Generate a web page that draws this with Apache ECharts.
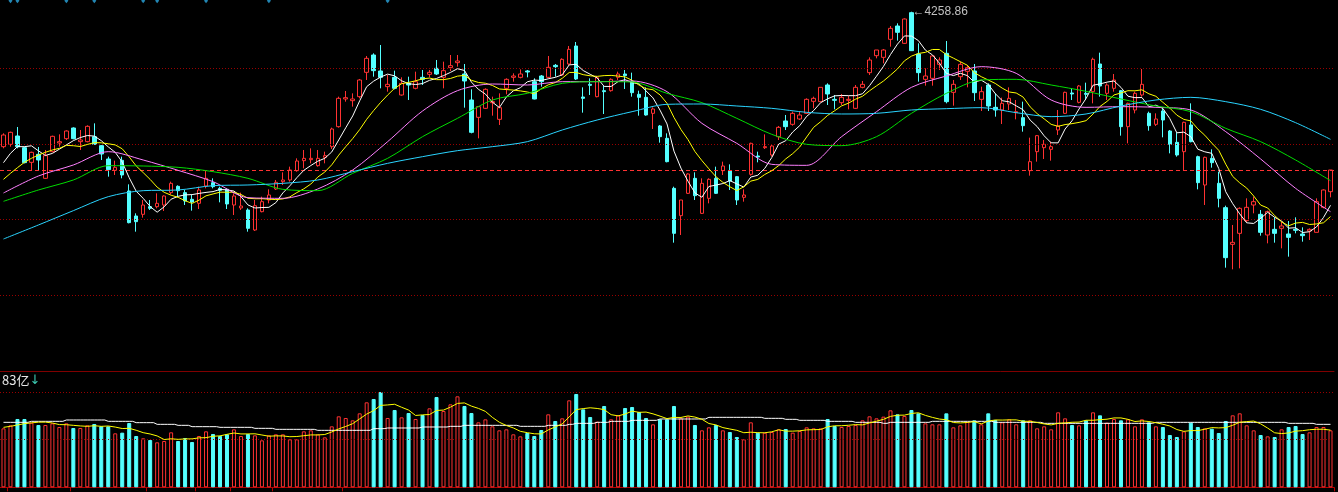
<!DOCTYPE html>
<html><head><meta charset="utf-8">
<script src="https://cdn.jsdelivr.net/npm/echarts@6/dist/echarts.min.js"></script>
<style>html,body{margin:0;padding:0;background:#000;overflow:hidden;} #c{width:1338px;height:492px;}</style>
</head><body><div id="c"></div>
<script>
const opens=[
3854,3861,3886,3851,3807,3831,3759,3839,3865,3878,
3910,3869,3869,3884,3857,3817,3783,3813,3721,3646,
3651,3674,3674,3679,3716,3735,3716,3696,3684,3736,
3746,3729,3726,3679,3670,3664,3604,3659,3694,3727,
3749,3754,3782,3812,3815,3797,3822,3854,3914,3997,
3992,4004,4077,4129,4081,4034,4062,4009,4044,4029,
4062,4071,4089,4062,4091,4106,4072,3994,3942,3969,
3986,3936,4029,4062,4062,4081,4049,4066,4062,4098,
4069,4102,4156,4003,4041,4004,4022,4022,4062,4072,
4049,4011,4002,3954,3916,3879,3729,3647,3714,3759,
3654,3699,3759,3782,3782,3764,3702,3771,3826,3851,
3829,3884,3931,3921,3937,3954,3990,3989,4039,3996,
3986,3993,3969,4032,4076,4127,4122,4176,4216,4164,
4256,4132,4056,4059,4101,4134,4017,4064,4080,4081,
3996,4039,3972,3964,3982,3956,3941,3782,3839,3851,
3846,3904,3954,4015,3987,4014,4019,4102,4014,4029,
4022,3914,3964,4009,3954,3921,3961,3901,3867,3839,
3919,3824,3739,3819,3744,3671,3561,3594,3632,3679,
3651,3589,3606,3609,3592,3606,3592,3601,3597,3672,
3719];
const closes=[
3889,3897,3854,3806,3837,3814,3827,3885,3869,3901,
3878,3874,3915,3861,3832,3785,3792,3769,3626,3629,
3679,3669,3684,3706,3744,3722,3691,3688,3724,3759,
3734,3723,3682,3706,3676,3609,3677,3689,3709,3747,
3754,3784,3811,3819,3819,3819,3827,3907,3999,4001,
3997,4054,4119,4082,4062,4041,4029,4044,4039,4049,
4056,4077,4072,4082,4097,4111,4051,3897,3974,4026,
3989,3971,4056,4066,4072,4078,3997,4049,4092,4094,
4116,4146,4057,3999,4038,4061,4019,4056,4072,4067,
4016,4002,3949,3967,3884,3809,3594,3694,3772,3707,
3744,3756,3714,3796,3751,3694,3709,3864,3823,3854,
3856,3912,3914,3954,3949,3996,3999,4032,4012,3993,
4002,3996,4032,4041,4114,4144,4144,4209,4197,4237,
4142,4076,4066,4126,4114,3989,4041,4101,4091,4016,
4019,3976,3964,3984,3999,3959,3917,3809,3887,3861,
3854,3916,4017,4012,4036,4011,4116,4036,4039,4054,
3914,3984,4014,4041,3917,3937,3934,3861,3829,3927,
3869,3746,3822,3806,3699,3521,3567,3669,3672,3689,
3597,3659,3594,3616,3582,3603,3587,3606,3689,3724,
3784];
const lows=[
3849,3854,3849,3804,3784,3784,3757,3837,3854,3874,
3876,3844,3867,3859,3814,3764,3769,3759,3624,3599,
3641,3664,3669,3661,3711,3704,3679,3662,3667,3729,
3729,3687,3667,3649,3664,3599,3601,3657,3684,3724,
3739,3749,3779,3789,3804,3794,3804,3847,3911,3989,
3974,3999,4054,4064,4029,4019,4026,4007,3994,4026,
4039,4062,4069,4029,4081,4094,3971,3894,3879,3967,
3947,3919,4011,4049,4059,4062,3996,4034,4059,4064,
4066,4099,4054,3956,4009,4002,3952,4019,4054,4027,
4004,3947,3947,3907,3866,3807,3566,3589,3712,3694,
3652,3684,3712,3769,3724,3679,3689,3767,3807,3847,
3824,3874,3904,3917,3934,3952,3969,3987,3979,3966,
3979,3966,3967,4029,4069,4119,4104,4154,4172,4162,
4141,4049,4037,4037,4084,3984,3977,4054,4032,3991,
3961,3961,3944,3922,3964,3936,3899,3767,3809,3817,
3812,3889,3952,3994,3984,3994,3984,4004,3994,4019,
3887,3864,3954,4004,3902,3916,3882,3834,3824,3784,
3867,3726,3679,3791,3672,3491,3486,3489,3627,3654,
3587,3564,3566,3549,3524,3594,3569,3574,3597,3669,
3702];
const highs=[
3894,3899,3913,3854,3839,3853,3844,3887,3891,3903,
3912,3904,3918,3924,3859,3824,3812,3824,3741,3654,
3694,3694,3714,3708,3749,3738,3724,3709,3734,3781,
3759,3734,3729,3714,3716,3669,3694,3704,3726,3754,
3777,3794,3819,3844,3849,3844,3839,3911,4004,4021,
4014,4057,4126,4134,4159,4069,4082,4062,4064,4079,
4084,4084,4114,4109,4129,4129,4102,4026,3976,4029,
4004,4014,4059,4074,4086,4084,4059,4069,4126,4102,
4119,4156,4168,4032,4059,4066,4036,4059,4079,4084,
4076,4022,4032,3972,3919,3894,3734,3694,3774,3777,
3759,3759,3794,3809,3801,3766,3726,3866,3839,3891,
3859,3916,3949,3959,3959,3999,4004,4032,4044,4009,
4012,4007,4039,4051,4122,4144,4147,4216,4224,4239,
4258.86,4164,4089,4129,4122,4171,4054,4109,4099,4102,
4034,4044,4014,4001,4032,3994,3989,3881,3889,3874,
3869,3964,4019,4029,4039,4046,4121,4136,4044,4072,
4024,3986,4019,4087,3959,3954,3969,3904,3897,3929,
3984,3827,3824,3846,3779,3677,3619,3672,3699,3704,
3664,3662,3642,3629,3631,3642,3612,3609,3699,3726,
3784];
const volumes=[
177,186,205,205,194,187,187,192,181,192,
178,178,186,190,183,183,162,164,193,154,
147,142,135,139,165,139,148,136,154,168,
160,154,159,174,154,160,156,141,156,159,
159,144,144,168,171,159,150,183,213,208,
201,222,255,265,286,208,232,210,223,205,
217,237,271,229,249,273,244,223,195,204,
183,171,174,159,153,163,154,172,219,199,
207,261,280,234,211,197,244,204,216,238,
241,226,208,189,204,204,244,207,212,187,
171,180,187,171,166,151,144,195,164,164,
166,174,175,164,169,180,177,177,205,184,
181,184,187,201,213,207,212,231,219,214,
232,222,192,189,189,222,180,186,196,201,
189,222,202,195,204,189,201,201,177,183,
174,225,207,187,186,201,225,216,194,205,
201,204,183,204,195,183,181,157,151,168,
194,181,177,176,163,199,216,222,186,171,
157,153,151,174,181,184,160,165,181,181,
171];
// moving-average values read at the left edge (before a full window exists)
const ma5Head=[3806,3834,3854,3854];
const ma10Head=[3756,3774,3791,3807,3819,3829,3837,3844,3849];
const volMa5Head=[180,183,187,191];
// longer averages: [dayIndex, value]
const maPink=[[0,3715],[5,3766],[10,3799],[15,3839],[20,3814],[25,3783],[30,3749],[35,3701],[40,3699],[45,3727],[50,3784],[55,3869],[60,3961],[65,4022],[70,4042],[75,4039],[80,4049],[85,4049],[90,4051],[95,4019],[100,3924],[105,3864],[110,3801],[115,3798],[120,3884],[125,3959],[130,4032],[135,4066],[140,4094],[145,4074],[150,3994],[155,3972],[160,3974],[165,3972],[170,3964],[175,3899],[180,3817],[185,3729],[190,3659]];
const maGreen=[[0,3690],[5,3724],[10,3754],[15,3797],[20,3796],[25,3792],[30,3779],[35,3759],[40,3726],[45,3722],[50,3774],[55,3819],[60,3884],[65,3939],[70,3994],[75,4014],[80,4044],[85,4049],[90,4048],[95,4014],[100,3986],[105,3939],[110,3891],[115,3861],[120,3857],[125,3884],[130,3954],[135,4014],[140,4054],[145,4056],[150,4039],[155,4020],[160,3997],[165,3976],[170,3959],[175,3909],[180,3869],[185,3814],[190,3752]];
const maCyan=[[0,3577],[5,3619],[10,3662],[15,3704],[20,3722],[25,3724],[30,3737],[35,3739],[40,3744],[45,3754],[50,3779],[55,3804],[60,3824],[65,3842],[70,3854],[75,3869],[80,3904],[85,3934],[90,3959],[95,3981],[100,3982],[105,3976],[110,3969],[115,3957],[120,3952],[125,3954],[130,3964],[135,3968],[140,3971],[145,3956],[150,3944],[155,3952],[160,3976],[165,3994],[170,4002],[175,3989],[180,3966],[185,3926],[190,3876]];
// long volume average, read as runs: [startIndex, value]
const volLongRuns=[[0,195],[4,198],[9,202],[15,198],[19,194],[22,189],[25,186],[27,182],[31,180],[36,177],[39,174],[45,171],[53,176],[55,178],[60,181],[64,183],[66,186],[74,183],[78,186],[81,189],[82,192],[85,195],[87,198],[90,201],[94,205],[101,210],[109,207],[112,204],[114,201],[118,198],[122,195],[126,192],[127,195],[133,198],[142,195],[149,192],[165,195],[184,192],[188,189]];
const priceGridLevels=[4089,3861,3636,3409];
const lastPriceLevel=3784;
const volGridLevels=[285,145];
const markerIdx=[1,2,9,13,20,22,29,38,55];
const tickIdx=[1,10,21,28,33,39,49];

const n=opens.length;
const cats=opens.map((_,i)=>String(i+1));
const candle=opens.map((o,i)=>[o,closes[i],lows[i],highs[i]]);
function ma(arr,p,head){return arr.map((_,i)=>{if(i<p-1)return head[i];let s=0;for(let k=i-p+1;k<=i;k++)s+=arr[k];return +(s/p).toFixed(2);});}
const ma5=ma(closes,5,ma5Head), ma10=ma(closes,10,ma10Head), vma5=ma(volumes,5,volMa5Head);
const volLong=[];for(let i=0;i<n;i++){let v=volLongRuns[0][1];for(const r of volLongRuns){if(r[0]<=i)v=r[1];}volLong.push(v);}
const RED='#ff3232', CY='#54ffff';
const volData=volumes.map((v,i)=>({value:v,itemStyle:closes[i]>=opens[i]?{color:'#000',borderColor:RED,borderWidth:1}:{color:CY,borderColor:CY,borderWidth:1}}));
const lineS=(data,color,extra)=>Object.assign({type:'line',data:data,xAxisIndex:0,yAxisIndex:0,showSymbol:false,symbol:'none',lineStyle:{color:color,width:1},z:5,silent:true},extra||{});

const chart=echarts.init(document.getElementById('c'),null,{renderer:'canvas'});
chart.setOption({
  backgroundColor:'#000',animation:false,
  grid:[{left:-3,width:1337,top:0,height:371.33},{left:-3,width:1337,top:371.33,height:116}],
  xAxis:[
    {type:'category',gridIndex:0,data:cats,boundaryGap:true,axisLine:{show:true,lineStyle:{color:'#800000',width:1}},axisTick:{show:false},axisLabel:{show:false},splitLine:{show:false}},
    {type:'category',gridIndex:1,data:cats,boundaryGap:true,axisLine:{show:true,lineStyle:{color:'#b40000',width:1}},axisTick:{show:true,length:4,interval:(idx)=>tickIdx.indexOf(idx)>=0,lineStyle:{color:'#b40000'}},axisLabel:{show:false},splitLine:{show:false}}
  ],
  yAxis:[
    {type:'value',gridIndex:0,min:3180,max:4294,show:false,splitLine:{show:false}},
    {type:'value',gridIndex:1,min:0,max:348,show:false,splitLine:{show:false}}
  ],
  graphic:[{type:'text',left:2,top:374,silent:true,style:{text:'{a|83亿}{b|↓}',rich:{a:{fill:'#e8e8e8',fontSize:13,fontFamily:'"Noto Sans CJK SC", "DejaVu Sans", sans-serif'},b:{fill:'#3cc8b0',fontSize:13,fontFamily:'"DejaVu Sans", sans-serif'}}}}],
  series:[
    {type:'line',data:[],xAxisIndex:0,yAxisIndex:0,z:0,silent:true,
      markLine:{silent:true,symbol:['none','none'],label:{show:false},animation:false,
        data:priceGridLevels.map(v=>({yAxis:v,lineStyle:{color:'#990000',type:[1,2],width:1}})).concat([{yAxis:lastPriceLevel,lineStyle:{color:RED,type:[4,3],width:1}}])}},
    {type:'line',data:[],xAxisIndex:1,yAxisIndex:1,z:0,silent:true,
      markLine:{silent:true,symbol:['none','none'],label:{show:false},animation:false,
        data:volGridLevels.map(v=>({yAxis:v,lineStyle:{color:'#990000',type:[1,2],width:1}}))}},
    {type:'candlestick',xAxisIndex:0,yAxisIndex:0,data:candle,barWidth:4,z:2,silent:true,
      itemStyle:{color:'#000',color0:CY,borderColor:RED,borderColor0:CY,borderWidth:1},
      markPoint:{silent:true,symbol:'circle',symbolSize:0,animation:false,
        label:{show:true,position:'right',distance:1,color:'#c0c0c0',fontSize:12,fontFamily:'"Liberation Sans", Arial, "DejaVu Sans", sans-serif',
          formatter:(p)=>'←'+Number(p.value).toFixed(2)},
        data:[{type:'max',valueDim:'highest'}]}},
    lineS(ma5,'#ffffff'),
    lineS(ma10,'#ffff00'),
    lineS(maPink,'#ff80ff',{smooth:0.3}),
    lineS(maGreen,'#00dd00',{smooth:0.3}),
    lineS(maCyan,'#2ad4ff',{smooth:0.3}),
    {type:'scatter',xAxisIndex:0,yAxisIndex:0,data:markerIdx.map(i=>[i,4292]),symbol:'diamond',symbolSize:[4,5],itemStyle:{color:'#2aa8e0'},z:6,silent:true},
    {type:'bar',xAxisIndex:1,yAxisIndex:1,data:volData,barWidth:4,z:2,silent:true},
    {type:'line',xAxisIndex:1,yAxisIndex:1,data:vma5,showSymbol:false,symbol:'none',lineStyle:{color:'#ffff00',width:1},z:5,silent:true},
    {type:'line',xAxisIndex:1,yAxisIndex:1,data:volLong,step:'middle',showSymbol:false,symbol:'none',lineStyle:{color:'#ffffff',width:1},z:4,silent:true}
  ]
});
</script></body></html>
